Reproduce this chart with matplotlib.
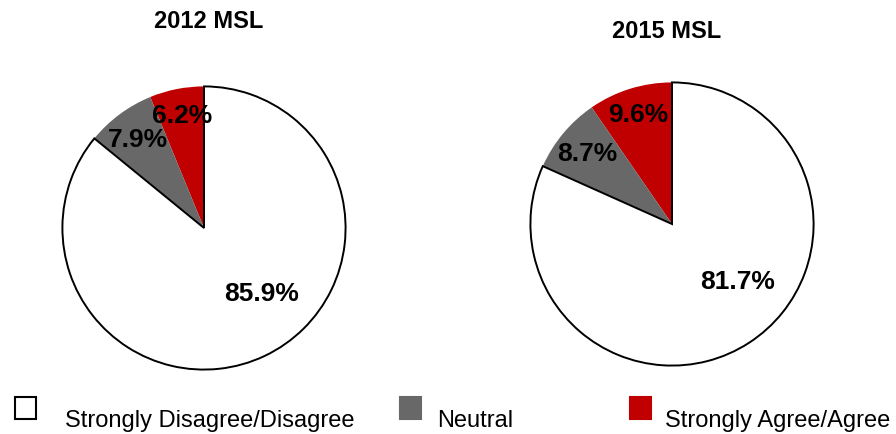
import numpy as np
import matplotlib.pyplot as plt
from matplotlib.patches import Rectangle

plt.rcParams['font.family'] = ['Liberation Sans', 'DejaVu Sans']

# --- дані ---
categories = ['Strongly Agree/Agree', 'Neutral', 'Strongly Disagree/Disagree']
years = ['2012 MSL', '2015 MSL']
shares_2012 = [6.2, 7.9, 85.9]
shares_2015 = [9.6, 8.7, 81.7]
colors = ['#C00000', '#686868', 'white']

W, H = 896, 435
fig = plt.figure(figsize=(W / 100, H / 100), dpi=100)

# центр (px від верху) і радіус кожного пирога
centers = [(204, 229), (672, 225)]
R = 143
title_pos = [(209, 22), (667, 32)]
# зсув кута для білих підписів (градуси) і відстань від центру
label_r = [0.81, 0.78, 0.61]
label_dang = [0, 0, 16]

for k, shares in enumerate([shares_2012, shares_2015]):
    cx, cy = centers[k]
    ax = fig.add_axes([(cx - R) / W, (H - cy - R) / H, 2 * R / W, 2 * R / H])
    wedges, _ = ax.pie(shares, colors=colors, startangle=90, counterclock=True,
                       radius=1, wedgeprops=dict(linewidth=0))
    # біла частина з чорним контуром
    wedges[2].set_edgecolor('black')
    wedges[2].set_linewidth(1.4)
    ax.set_xlim(-1.01, 1.01)
    ax.set_ylim(-1.01, 1.01)
    ax.axis('off')
    for i, w in enumerate(wedges):
        ang = np.deg2rad((w.theta1 + w.theta2) / 2 + label_dang[i])
        ax.text(label_r[i] * np.cos(ang), label_r[i] * np.sin(ang),
                f'{shares[i]:.1f}%', ha='center', va='center',
                fontsize=19, fontweight='bold', color='black')
    tx, ty = title_pos[k]
    fig.text(tx / W, 1 - ty / H, years[k], ha='center', va='center',
             fontsize=17, fontweight='bold')

# --- легенда вручну ---
leg_items = [(15, 'white', categories[2], 65),
             (400, '#686868', categories[1], 437),
             (630, '#C00000', categories[0], 665)]
for x0, col, lab, tx in leg_items:
    ec = 'black' if col == 'white' else col
    fig.patches.append(Rectangle((x0 / W, 1 - 420 / H), 21 / W, 22 / H,
                                 transform=fig.transFigure, facecolor=col,
                                 edgecolor=ec, linewidth=1.5))
    fig.text(tx / W, 1 - 421 / H, lab, ha='left', va='center', fontsize=17)

fig.savefig('out.png', dpi=100)
